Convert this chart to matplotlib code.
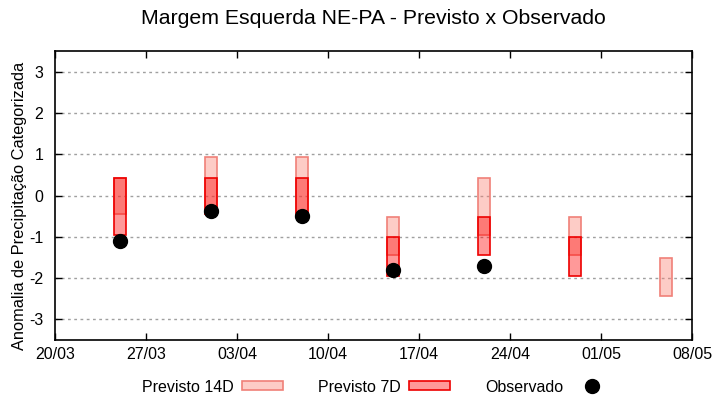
import matplotlib
matplotlib.use("Agg")
import matplotlib.pyplot as plt
import matplotlib.dates as mdates
from matplotlib.patches import Patch
from matplotlib.lines import Line2D
from datetime import datetime

plt.rcParams['font.family'] = ['Liberation Sans', 'DejaVu Sans']

YEAR = 2023
def d(s):
    dd, mm = s.split('/')
    return datetime(YEAR, int(mm), int(dd))

# Data
dates_14d = ['25/03', '01/04', '08/04', '15/04', '22/04', '29/04', '06/05']
p14_low = [-0.45, -0.45, -0.45, -1.45, -0.96, -1.45, -2.45]
p14_high = [0.43, 0.95, 0.95, -0.53, 0.43, -0.53, -1.53]

dates_7d = ['25/03', '01/04', '08/04', '15/04', '22/04', '29/04']
p7_low = [-0.97, -0.45, -0.45, -1.95, -1.45, -1.96]
p7_high = [0.43, 0.43, 0.43, -1.0, -0.53, -1.0]

dates_obs = ['25/03', '01/04', '08/04', '15/04', '22/04']
obs = [-1.10, -0.37, -0.49, -1.81, -1.72]

xtick_labels = ['20/03', '27/03', '03/04', '10/04', '17/04', '24/04', '01/05', '08/05']
yticks = [-3, -2, -1, 0, 1, 2, 3]

fig = plt.figure(figsize=(7.2, 4.0), dpi=100)
ax_left, ax_right = 55/720, 692/720
ax = fig.add_axes([ax_left, 60/400, ax_right - ax_left, (340-51)/400])

c14_face = (250/255, 128/255, 114/255, 0.4)
c14_edge = '#f08078'
c7_face = (1.0, 0.0, 0.0, 0.4)
c7_edge = '#ee0000'

x14 = [mdates.date2num(d(s)) for s in dates_14d]
x7 = [mdates.date2num(d(s)) for s in dates_7d]
xo = [mdates.date2num(d(s)) for s in dates_obs]

w = 0.95
ax.bar(x14, [h - l for h, l in zip(p14_high, p14_low)], bottom=p14_low, width=w,
       facecolor=c14_face, edgecolor=c14_edge, linewidth=1.2, zorder=2)
ax.bar(x7, [h - l for h, l in zip(p7_high, p7_low)], bottom=p7_low, width=w,
       facecolor=c7_face, edgecolor=c7_edge, linewidth=1.2, zorder=3)
ax.plot(xo, obs, 'o', color='black', markersize=10, linestyle='none', zorder=4)

ax.set_xlim(mdates.date2num(d(xtick_labels[0])), mdates.date2num(d(xtick_labels[-1])))
ax.set_ylim(-3.52, 3.52)
ax.set_xticks([mdates.date2num(d(s)) for s in xtick_labels])
ax.set_xticklabels(xtick_labels)
ax.set_yticks(yticks)
ax.set_yticklabels([str(v) for v in yticks])
ax.tick_params(direction='in', top=True, right=True, length=5, width=1,
               labelsize=11.5, colors='black')
ax.tick_params(axis='y', pad=8.5)
ax.tick_params(axis='x', pad=5)
ax.yaxis.grid(True, linestyle=(0, (2, 2.5)), color='#a0a0a0', linewidth=1)
ax.set_axisbelow(True)
for sp in ax.spines.values():
    sp.set_linewidth(1.2)
    sp.set_color('black')

ax.set_ylabel('Anomalia de Precipitação Categorizada', fontsize=11.8)
ax.yaxis.set_label_coords(-28/637, 0.465)

fig.text((ax_left + ax_right) / 2, 1 - 19/400, 'Margem Esquerda NE-PA - Previsto x Observado',
         ha='center', va='center', fontsize=15.3)

handles = [
    Patch(facecolor=c14_face, edgecolor=c14_edge, linewidth=1.2, label='Previsto 14D'),
    Patch(facecolor=c7_face, edgecolor=c7_edge, linewidth=1.2, label='Previsto 7D'),
    Line2D([], [], marker='o', color='black', markersize=10, linestyle='none', label='Observado'),
]
fig.legend(handles=handles, loc='center', bbox_to_anchor=(0.524, 1 - 387/400), ncol=3,
           markerfirst=False, frameon=False, fontsize=11.5, handlelength=2.57,
           handleheight=0.5, handletextpad=0.5, columnspacing=2.2)

fig.savefig('out.png', dpi=100)
